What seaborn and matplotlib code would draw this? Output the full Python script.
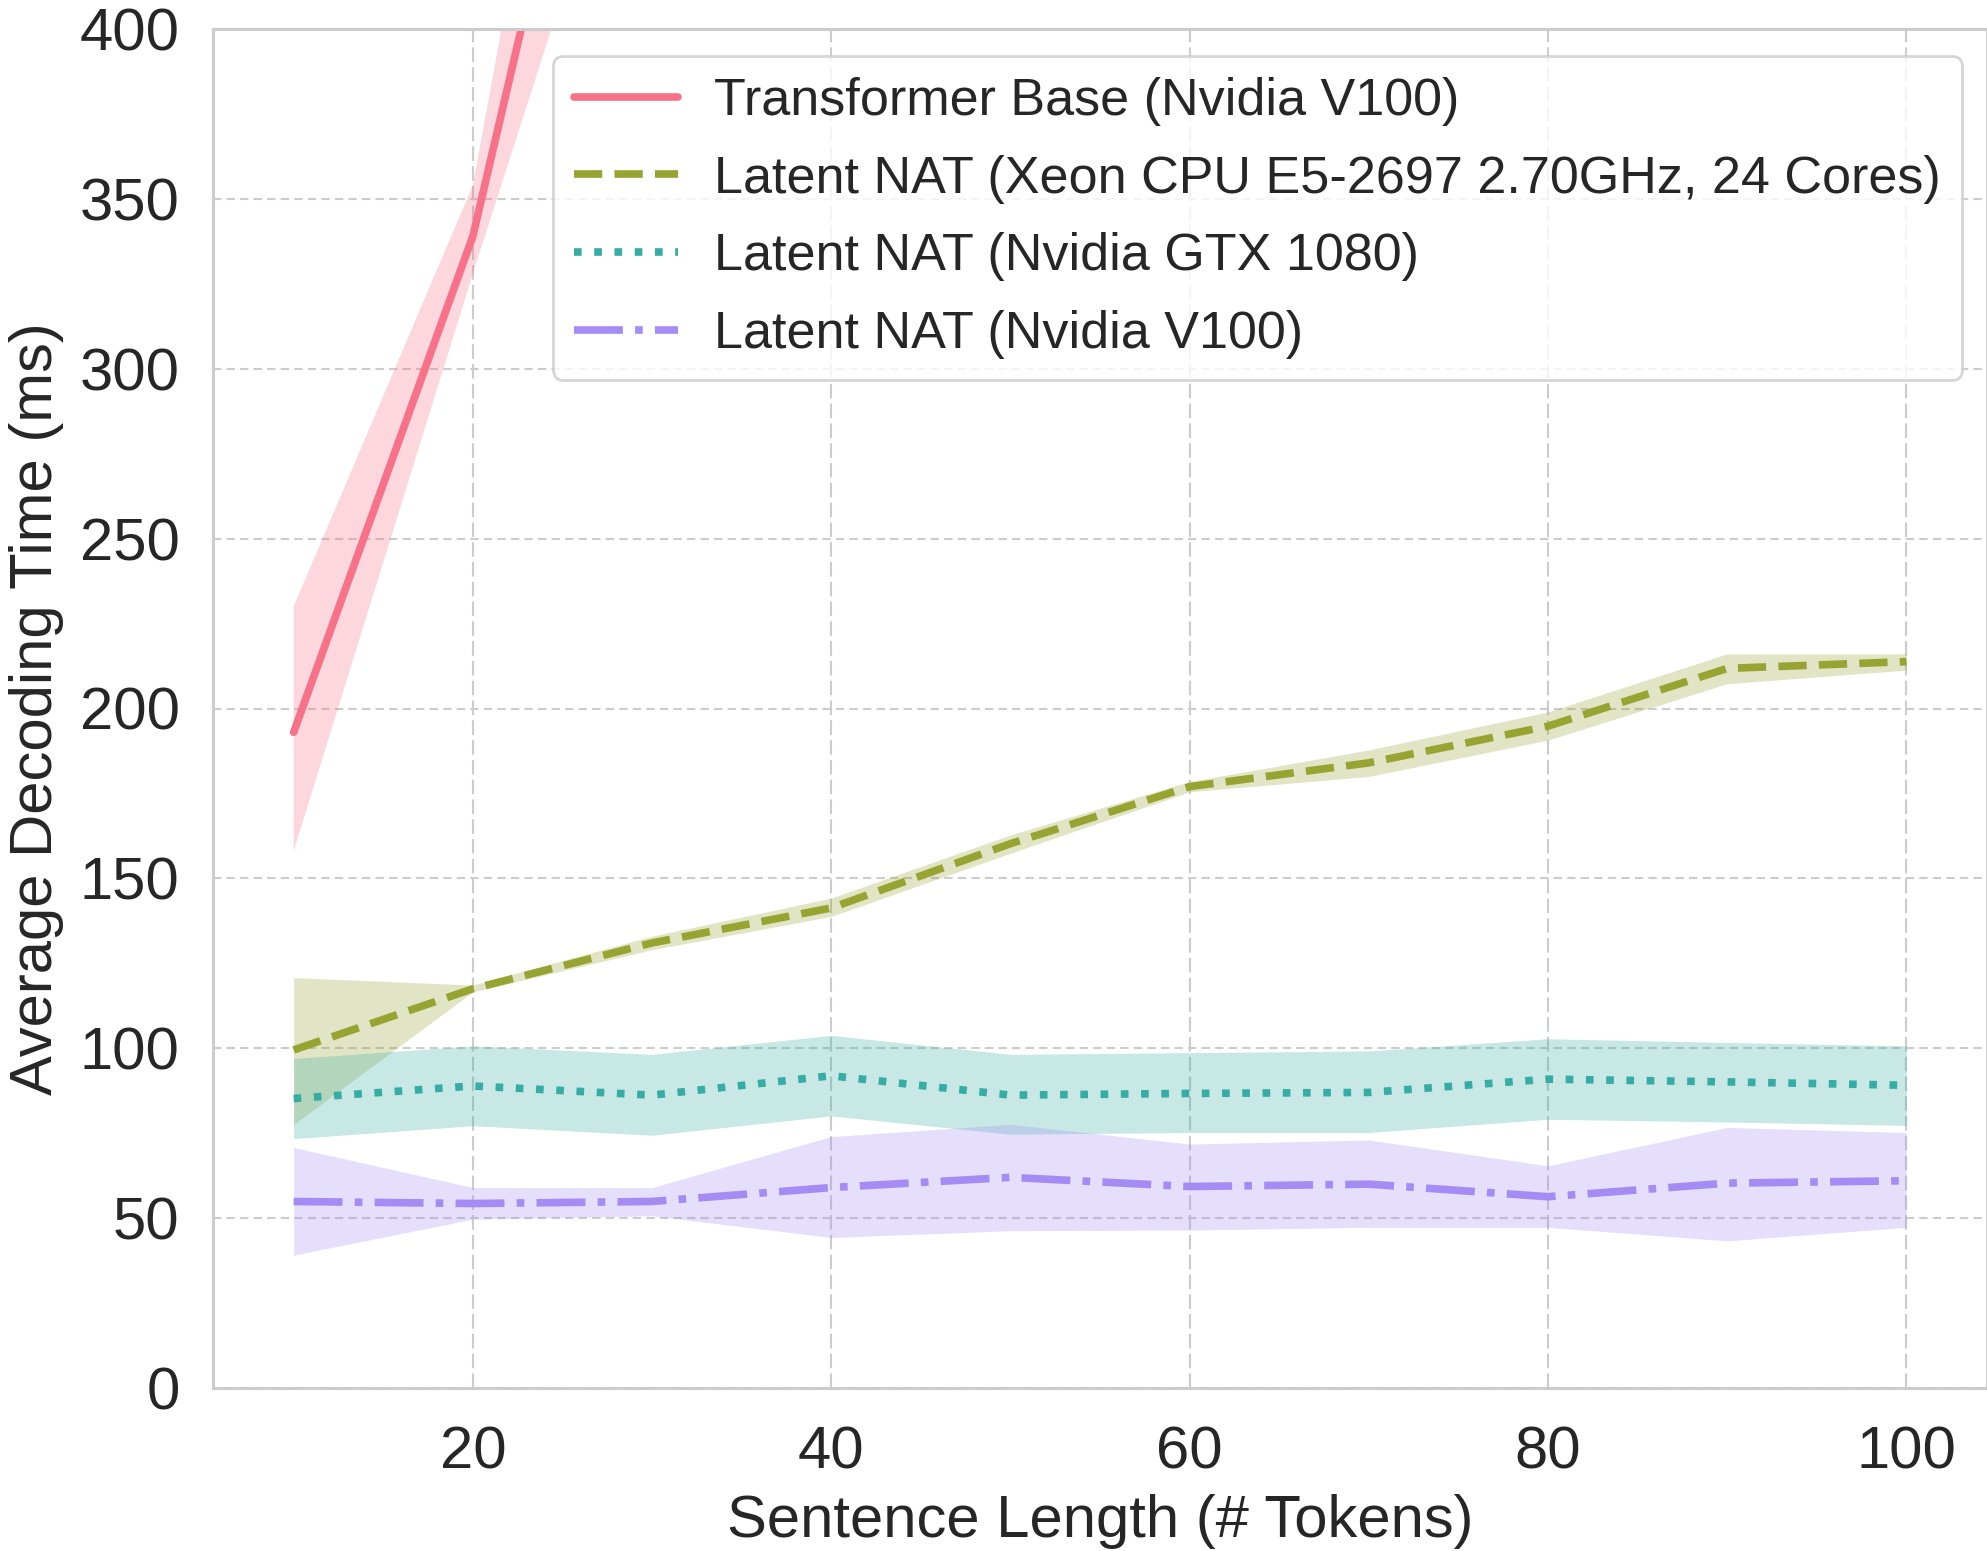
import numpy as np
import pandas as pd
import seaborn as sns
import matplotlib.pyplot as plt
from matplotlib.lines import Line2D

# sentence lengths (# tokens)
lengths = [10, 20, 30, 40, 50, 60, 70, 80, 90, 100]

# Transformer Base (Nvidia V100) - goes off the chart after ~22 tokens
tf_x = [10, 20, 30]
tf_mean = [193, 339, 565]
tf_low = [158, 328, 492]
tf_high = [230, 354, 641]

# Latent NAT (Xeon CPU)
cpu_mean = [99.5, 117.5, 131, 141.3, 160.2, 177, 184, 194.8, 211.8, 213.8]
cpu_low = [77.6, 116.6, 129, 138.8, 157.4, 175.5, 180, 190.7, 207.3, 211.3]
cpu_high = [120.8, 118.6, 133, 144.2, 162.8, 178.5, 187.8, 199, 216.1, 216.1]

# Latent NAT (Nvidia GTX 1080)
gtx_mean = [85.2, 88.9, 86.2, 91.9, 86.2, 86.7, 87.0, 90.9, 90.1, 89.1]
gtx_low = [73.4, 77.2, 74.4, 80.1, 74.7, 75.2, 75.2, 79.1, 78.3, 77.3]
gtx_high = [97.0, 100.7, 98.2, 103.8, 98.2, 98.7, 99.2, 102.8, 101.7, 100.7]

# Latent NAT (Nvidia V100)
v100_mean = [54.9, 54.3, 54.9, 59.0, 62.0, 59.3, 60.0, 56.3, 60.3, 61.0]
v100_low = [39.1, 49.7, 50.7, 44.3, 46.3, 46.5, 47.3, 47.3, 43.3, 47.3]
v100_high = [70.8, 59.0, 59.0, 74.0, 77.6, 71.8, 73.0, 65.4, 76.7, 75.2]

names = ["Transformer Base (Nvidia V100)",
         "Latent NAT (Xeon CPU E5-2697 2.70GHz, 24 Cores)",
         "Latent NAT (Nvidia GTX 1080)",
         "Latent NAT (Nvidia V100)"]

series = [
    (tf_x, tf_mean, tf_low, tf_high),
    (lengths, cpu_mean, cpu_low, cpu_high),
    (lengths, gtx_mean, gtx_low, gtx_high),
    (lengths, v100_mean, v100_low, v100_high),
]

frames = []
for name, (xs, m, lo, hi) in zip(names, series):
    frames.append(pd.DataFrame({"length": xs, "time": m, "low": lo,
                                "high": hi, "model": name}))
df = pd.concat(frames, ignore_index=True)

sns.set_theme(style="whitegrid")
plt.rcParams["font.family"] = ["Liberation Sans", "DejaVu Sans"]

colors = sns.color_palette("husl", 4)
palette = dict(zip(names, colors))
dash_styles = {names[0]: "", names[1]: (3.7, 1.6), names[2]: (1, 1.65),
               names[3]: (6.4, 1.6, 1, 1.6)}
lw = 5.5

fig = plt.figure(figsize=(19.87, 15.51), dpi=100)
ax = fig.add_axes([213 / 1987, 1 - 1388 / 1551, 1 - 213 / 1987, (1388 - 29) / 1551])

sns.lineplot(data=df, x="length", y="time", hue="model", style="model",
             hue_order=names, style_order=names, palette=palette,
             dashes=dash_styles, errorbar=None, lw=lw, legend=False, ax=ax)

for name in names:
    sub = df[df["model"] == name]
    ax.fill_between(sub["length"], sub["low"], sub["high"],
                    color=palette[name], alpha=0.28, lw=0)

ax.set_xlim(5.5, 104.5)
ax.set_ylim(0, 400)
ax.set_xticks([20, 40, 60, 80, 100])
ax.set_yticks(np.arange(0, 401, 50))
ax.tick_params(axis="both", labelsize=43, length=0)
ax.tick_params(axis="y", pad=24)
ax.tick_params(axis="x", pad=27)
ax.set_xlabel("Sentence Length (# Tokens)", fontsize=43, labelpad=10)
ax.set_ylabel("Average Decoding Time (ms)", fontsize=43, labelpad=11)

ax.grid(False)
ax.yaxis.grid(True, linestyle=(0, (4, 2.5)), lw=1.5, color=".8")
ax.xaxis.grid(True, linestyle=(0, (7, 2.5)), lw=1.5, color=".8")
for sp in ax.spines.values():
    sp.set_color(".8")
    sp.set_linewidth(2.2)

handles = [Line2D([], [], color=palette[n], lw=lw,
                  dashes=dash_styles[n] if dash_styles[n] else (None, None))
           for n in names]
for h, n in zip(handles, names):
    if dash_styles[n] == "":
        h.set_linestyle("-")
leg = ax.legend(handles, names, loc="upper right", fontsize=37.5,
                bbox_to_anchor=(0.9859, 0.9801), borderaxespad=0,
                labelspacing=0.55, handlelength=2.0, handletextpad=0.7,
                borderpad=0.4, frameon=True)
leg.get_frame().set_edgecolor(".8")
leg.get_frame().set_linewidth(2)

fig.savefig("out.png", dpi=100)
